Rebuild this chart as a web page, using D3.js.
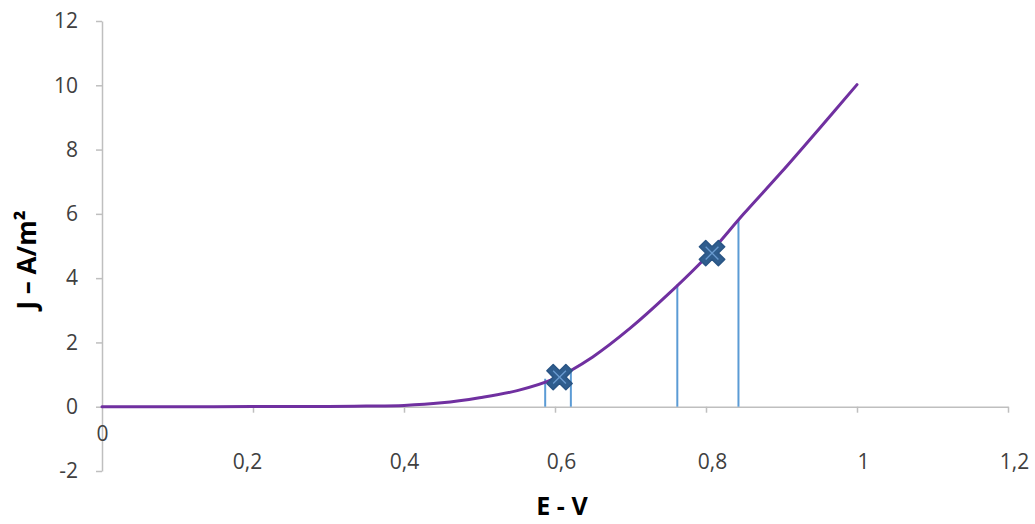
<!DOCTYPE html>
<html>
<head>
<meta charset="utf-8">
<script src="https://cdn.jsdelivr.net/npm/d3@7"></script>
<style>
  html, body { margin: 0; padding: 0; background: #fff; }
  svg { display: block; }
  text { font-family: "Open Sans", "Noto Sans", sans-serif; }
</style>
</head>
<body>
<svg id="chart" width="1035" height="524"></svg>
<script>
// ---- data ----
const curveE = [0, 0.1, 0.2, 0.3, 0.35, 0.4, 0.45, 0.5, 0.55, 0.6, 0.65, 0.7, 0.75, 0.8, 0.85, 0.9, 0.95, 1.0];
const curveJ = [0, 0.0, 0.005, 0.01, 0.02, 0.04, 0.12, 0.28, 0.5, 0.88, 1.55, 2.45, 3.5, 4.65, 6.0, 7.3, 8.65, 10.02];
const dropE = [0.587, 0.621, 0.762, 0.843];
const dropJ = [0.87, 1.08, 3.8, 5.82];
const markE = [0.606, 0.808];
const markJ = [0.92, 4.78];
const xTicks = [0, 0.2, 0.4, 0.6, 0.8, 1.0, 1.2];
const xTickLabels = ["0", "0,2", "0,4", "0,6", "0,8", "1", "1,2"];
const yTicks = [-2, 0, 2, 4, 6, 8, 10, 12];
const yTickLabels = ["-2", "0", "2", "4", "6", "8", "10", "12"];
const xTitle = "E - V";
const yTitle = "J – A/m²";

const svg = d3.select("#chart");
const x = d3.scaleLinear().domain([0, 1.2]).range([102, 1008]);
const y = d3.scaleLinear().domain([-2, 12]).range([471, 21]);

const axisColor = "#bfbfbf";
const labelColor = "#404040";

// Y axis
const yAxis = d3.axisLeft(y).tickValues(yTicks)
  .tickFormat((d, i) => yTickLabels[i]).tickSize(6).tickSizeOuter(0).tickPadding(18);
const gy = svg.append("g").attr("transform", `translate(${x(0)},0)`).call(yAxis);
gy.select(".domain").attr("stroke", axisColor).attr("stroke-width", 1.5);
gy.selectAll(".tick line").attr("stroke", axisColor).attr("stroke-width", 1.5);
gy.selectAll(".tick text").attr("fill", labelColor).style("font-size", "21px");

// X axis (crosses at y = 0)
const xAxis = d3.axisBottom(x).tickValues(xTicks)
  .tickFormat((d, i) => xTickLabels[i]).tickSize(6).tickSizeOuter(0).tickPadding(41);
const gx = svg.append("g").attr("transform", `translate(0,${y(0)})`).call(xAxis);
gx.select(".domain").attr("stroke", axisColor).attr("stroke-width", 1.5);
gx.selectAll(".tick line").attr("stroke", axisColor).attr("stroke-width", 1.5);
gx.selectAll(".tick text").attr("fill", labelColor).style("font-size", "21px")
  .attr("dx", d => d >= 0.6 ? 6 : (d === 0.2 ? -6 : 0));
gx.selectAll(".tick").filter(d => d === 0).select("text").attr("y", 19);
gx.selectAll(".tick").filter(d => d === 0).select("line").remove();

// vertical drop lines
svg.append("g").selectAll("line").data(dropE).join("line")
  .attr("x1", d => x(d)).attr("x2", d => x(d))
  .attr("y1", y(0)).attr("y2", (d, i) => y(dropJ[i]))
  .attr("stroke", "#5b9bd5").attr("stroke-width", 2);

// curve
const pts = curveE.map((e, i) => [e, curveJ[i]]);
const line = d3.line().x(d => x(d[0])).y(d => y(d[1])).curve(d3.curveCatmullRom.alpha(0.5));
svg.append("path").datum(pts).attr("d", line)
  .attr("fill", "none").attr("stroke", "#7030a0").attr("stroke-width", 3)
  .attr("stroke-linecap", "round");

// markers
const mk = svg.append("g").selectAll("g").data(markE).join("g")
  .attr("transform", (d, i) => `translate(${x(d)},${y(markJ[i])}) rotate(45)`);
mk.append("path").attr("d", d3.symbol().type(d3.symbolCross).size(400))
  .attr("fill", "#2f5d8e").attr("stroke", "#2a5585").attr("stroke-width", 1.5)
  .attr("stroke-linejoin", "round");
mk.append("path").attr("d", "M-9,0H9M0,-9V9")
  .attr("stroke", "#6a9bd0").attr("stroke-width", 1.3);

// titles
svg.append("text").attr("x", 562).attr("y", 515).attr("text-anchor", "middle")
  .style("font-size", "25px").style("font-weight", "bold").attr("fill", "#000").text(xTitle);
svg.append("text").attr("transform", "translate(36,260) rotate(-90)").attr("text-anchor", "middle")
  .style("font-size", "26px").style("font-weight", "bold").attr("fill", "#000").text(yTitle);
</script>
</body>
</html>
